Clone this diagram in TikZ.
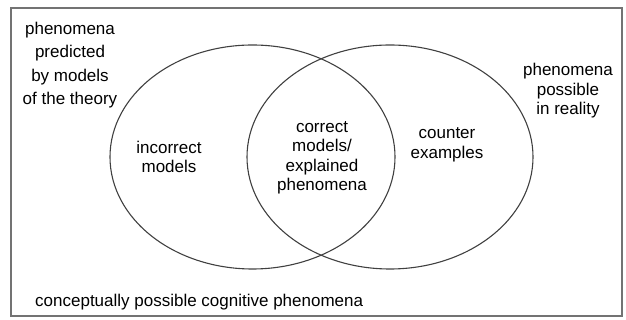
\documentclass[tikz,border=0pt]{standalone}
\usepackage{fontspec}
\setmainfont{Liberation Sans}
\usetikzlibrary{shapes.geometric}

\begin{document}
\begin{tikzpicture}[x=1pt, y=1pt, font=\fontsize{17}{19.5}\selectfont,
  set/.style={draw=black!75, line width=1.1pt, ellipse, inner sep=0pt},
  lbl/.style={align=center, inner sep=0pt}]
\useasboundingbox (0,0) rectangle (626,320);
\node[draw=black!55, line width=1.3pt, minimum width=611pt, minimum height=308pt, inner sep=0pt] (space) at (316.5,158) {};
\node[set, minimum width=285pt, minimum height=224pt] (theory) at (252.5,163) {};
\node[set, minimum width=286pt, minimum height=224pt] (reality) at (390,163) {};
\node[lbl, font=\fontsize{17}{23.5}\selectfont] (predicted) at (70,255) {phenomena\\predicted\\by models\\of the theory};
\node[lbl] (possible) at (568,229) {phenomena\\possible\\in reality};
\node[lbl] (incorrect) at (169,163) {incorrect\\models};
\node[lbl] (correct) at (322,162) {correct\\models/\\explained\\phenomena};
\node[lbl] (counter) at (447,175) {counter\\examples};
\node[lbl, anchor=west] (conceivable) at (35,18) {conceptually possible cognitive phenomena};
\end{tikzpicture}
\end{document}
